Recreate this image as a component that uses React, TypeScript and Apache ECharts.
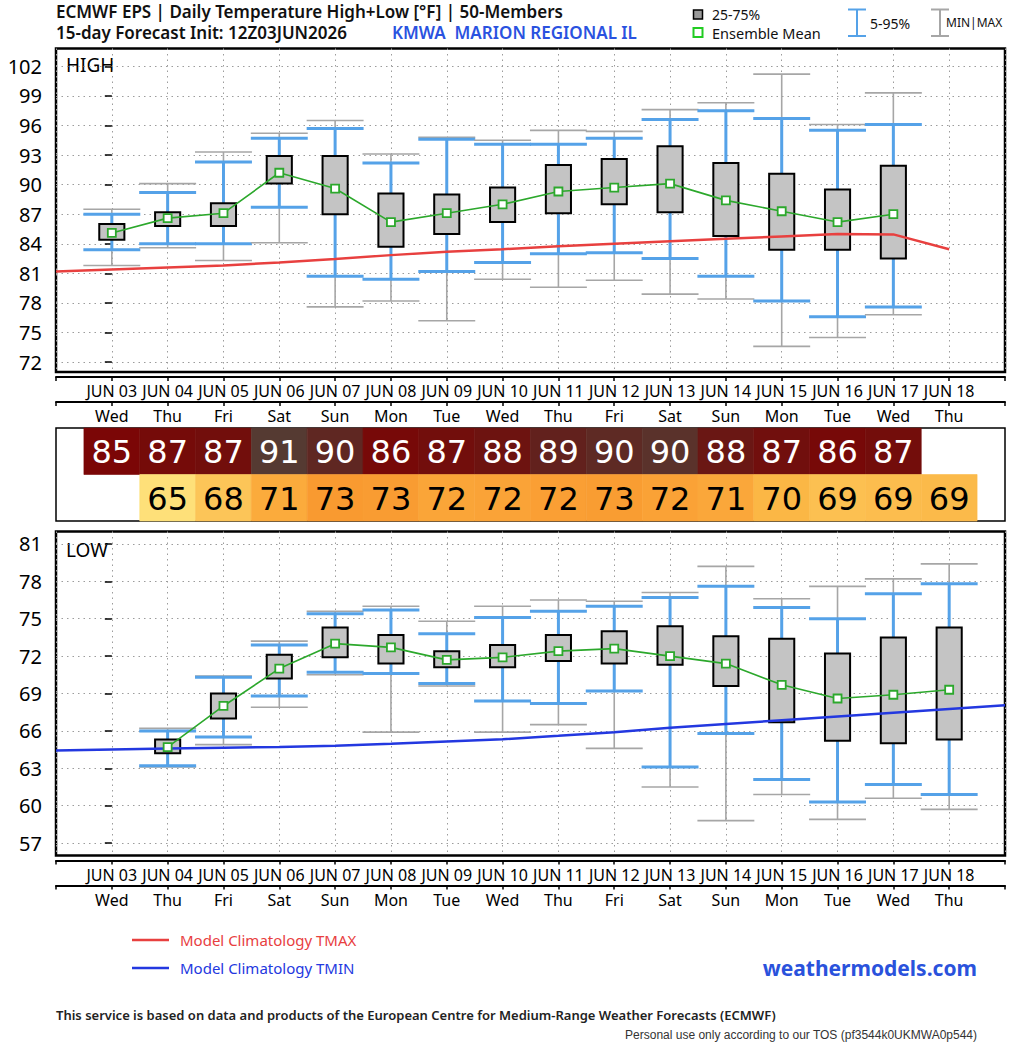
import React, { useEffect, useRef } from "react";
import * as echarts from "echarts";

// ---- Forecast days (x index 0 = JUN 03) ----
const dateLabels = [
  "JUN 03", "JUN 04", "JUN 05", "JUN 06", "JUN 07", "JUN 08", "JUN 09", "JUN 10",
  "JUN 11", "JUN 12", "JUN 13", "JUN 14", "JUN 15", "JUN 16", "JUN 17", "JUN 18",
];
const weekdayLabels = [
  "Wed", "Thu", "Fri", "Sat", "Sun", "Mon", "Tue", "Wed",
  "Thu", "Fri", "Sat", "Sun", "Mon", "Tue", "Wed", "Thu",
];

// ---- Daily high (°F), JUN 03 .. JUN 17 ----
const HIGH_FIRST_DAY = 0;
const highMax = [87.5, 90.1, 93.3, 95.2, 96.5, 93.1, 94.8, 94.5, 95.5, 95.4, 97.6, 98.3, 101.2, 96.1, 99.3];
const highP95 = [87.0, 89.2, 92.3, 94.7, 95.7, 92.2, 94.6, 94.1, 94.1, 94.7, 96.6, 97.5, 96.7, 95.5, 96.1];
const highQ3 = [86.0, 87.2, 88.1, 92.9, 92.9, 89.1, 89.0, 89.7, 92.0, 92.6, 93.9, 92.2, 91.1, 89.5, 91.9];
const highQ1 = [84.4, 85.8, 85.8, 90.1, 87.0, 83.7, 85.0, 86.2, 87.1, 88.0, 87.2, 84.8, 83.4, 83.4, 82.5];
const highP5 = [83.4, 84.0, 84.0, 87.7, 80.7, 80.4, 81.2, 82.1, 83.0, 83.1, 82.5, 80.7, 78.2, 76.6, 77.6];
const highMin = [81.8, 83.6, 82.3, 84.1, 77.6, 78.2, 76.2, 80.4, 79.6, 80.3, 78.9, 78.4, 73.6, 74.5, 76.8];
const highMean = [85.1, 86.6, 87.1, 91.2, 89.6, 86.2, 87.1, 88.0, 89.3, 89.7, 90.1, 88.4, 87.3, 86.2, 87.0];

// ---- Daily low (°F), JUN 04 .. JUN 18 ----
const LOW_FIRST_DAY = 1;
const lowMax = [66.2, 70.4, 73.2, 75.6, 76.0, 74.8, 76.0, 76.5, 76.4, 77.1, 79.2, 76.6, 77.6, 78.2, 79.4];
const lowP95 = [66.0, 70.3, 72.9, 75.4, 75.7, 73.8, 75.1, 75.6, 76.0, 76.7, 77.6, 75.9, 75.0, 77.0, 77.8];
const lowQ3 = [65.3, 69.0, 72.1, 74.3, 73.7, 72.4, 72.9, 73.7, 74.0, 74.4, 73.6, 73.4, 72.2, 73.5, 74.3];
const lowQ1 = [64.2, 67.0, 70.2, 71.9, 71.4, 71.1, 71.1, 71.6, 71.4, 71.3, 69.6, 66.7, 65.2, 65.0, 65.3];
const lowP5 = [63.2, 65.5, 68.8, 70.7, 70.6, 69.8, 68.4, 68.2, 69.2, 63.1, 65.8, 62.1, 60.3, 61.7, 60.9];
const lowMin = [63.1, 64.9, 67.9, 70.5, 65.9, 69.6, 65.9, 66.5, 64.6, 61.5, 58.8, 60.9, 58.9, 60.6, 59.7];
const lowMean = [64.7, 68.0, 71.0, 73.0, 72.7, 71.7, 71.9, 72.4, 72.6, 72.0, 71.4, 69.7, 68.6, 68.9, 69.3];

// ---- Model climatology, starting JUN 02 (x = -1) ----
const CLIM_FIRST_DAY = -1;
const climTmax = [81.2, 81.4, 81.6, 81.8, 82.1, 82.45, 82.85, 83.2, 83.45, 83.75, 84.0, 84.25, 84.5, 84.75, 85.0, 84.95, 83.45];
const climTmin = [64.42, 64.5, 64.58, 64.65, 64.7, 64.8, 64.96, 65.14, 65.33, 65.6, 65.9, 66.25, 66.55, 66.85, 67.15, 67.45, 67.75, 68.05];

// ---- Axis ticks ----
const highTicks = [72, 75, 78, 81, 84, 87, 90, 93, 96, 99, 102];
const lowTicks = [57, 60, 63, 66, 69, 72, 75, 78, 81];

const FONT = "'Noto Sans', 'DejaVu Sans', sans-serif";
const GRAY = "#a6a6a6";
const BLUE = "#55a2e8";
const GREEN = "#2ca82c";
const RED = "#e8403f";
const NAVY = "#2338e0";

// colour ramps for the summary strip (value, r, g, b)
const highRamp = [
  [85, 123, 6, 6],
  [86.5, 118, 10, 9],
  [88, 109, 19, 16],
  [89.3, 98, 33, 29],
  [90.1, 90, 50, 43],
  [91.5, 84, 60, 52],
];
const lowRamp = [
  [64, 254, 230, 128],
  [66, 253, 214, 108],
  [68, 252, 197, 88],
  [70, 251, 180, 66],
  [72, 250, 162, 54],
  [74, 248, 146, 42],
];

function rampColor(ramp: number[][], v: number): string {
  if (v <= ramp[0][0]) return `rgb(${ramp[0][1]},${ramp[0][2]},${ramp[0][3]})`;
  for (let i = 1; i < ramp.length; i++) {
    if (v <= ramp[i][0]) {
      const a = ramp[i - 1];
      const b = ramp[i];
      const t = (v - a[0]) / (b[0] - a[0]);
      const c = [1, 2, 3].map((k) => Math.round(a[k] + (b[k] - a[k]) * t));
      return `rgb(${c[0]},${c[1]},${c[2]})`;
    }
  }
  const l = ramp[ramp.length - 1];
  return `rgb(${l[1]},${l[2]},${l[3]})`;
}

function spreadRows(first: number, mn: number[], p5: number[], q1: number[], q3: number[], p95: number[], mx: number[]) {
  return mn.map((_, i) => [first + i, mn[i], p5[i], q1[i], q3[i], p95[i], mx[i]]);
}
function pairs(first: number, vals: number[]) {
  return vals.map((v, i) => [first + i, v]);
}

const renderSpread = (_params: any, api: any) => {
  const x = api.value(0);
  const lo = api.value(1);
  const p5 = api.value(2);
  const q1 = api.value(3);
  const q3 = api.value(4);
  const p95 = api.value(5);
  const hi = api.value(6);
  const unit = api.size([1, 0])[0];
  const cx = api.coord([x, lo])[0];
  const y = (v: number) => api.coord([x, v])[1];
  const cap = unit * 0.51;
  const half = unit * 0.225;
  const gs = { stroke: GRAY, lineWidth: 1.6 };
  const bs = { stroke: BLUE, lineWidth: 3 };
  const seg = (x1: number, y1: number, x2: number, y2: number, style: any) => ({
    type: "line",
    shape: { x1, y1, x2, y2 },
    style,
  });
  return {
    type: "group",
    children: [
      seg(cx, y(lo), cx, y(hi), gs),
      seg(cx - cap, y(lo), cx + cap, y(lo), gs),
      seg(cx - cap, y(hi), cx + cap, y(hi), gs),
      seg(cx, y(p5), cx, y(p95), bs),
      seg(cx - cap, y(p5), cx + cap, y(p5), bs),
      seg(cx - cap, y(p95), cx + cap, y(p95), bs),
      {
        type: "rect",
        shape: { x: cx - half, y: y(q3), width: half * 2, height: y(q1) - y(q3) },
        style: { fill: "#c4c4c4", stroke: "#000", lineWidth: 2 },
      },
    ],
  };
};

const renderCell = (_params: any, api: any) => {
  const x = api.value(0);
  const row = api.value(1);
  const v = api.value(2);
  const a = api.coord([x - 0.5, row + 1]);
  const b = api.coord([x + 0.5, row]);
  const isHigh = row >= 1;
  const fill = rampColor(isHigh ? highRamp : lowRamp, v);
  return {
    type: "group",
    children: [
      {
        type: "rect",
        shape: { x: a[0], y: a[1], width: b[0] - a[0], height: b[1] - a[1] },
        style: { fill, stroke: fill, lineWidth: 0.6 },
      },
      {
        type: "text",
        style: {
          text: String(Math.round(v)),
          x: (a[0] + b[0]) / 2,
          y: (a[1] + b[1]) / 2 + 1,
          fill: isHigh ? "#fff" : "#000",
          fontSize: 32,
          fontFamily: "'DejaVu Sans', sans-serif",
          align: "center",
          verticalAlign: "middle",
          textAlign: "center",
          textVerticalAlign: "middle",
        },
      },
    ],
  };
};

const dotted = { show: true, lineStyle: { color: "#9c9c9c", type: [1.5, 4], width: 1 } };
const baseX = { type: "value", min: -1, max: 16, interval: 1 };

function dayAxes(gridIndex: number) {
  const labelAxis = (offset: number, labels: string[]) => ({
    ...baseX,
    gridIndex,
    position: "bottom",
    offset,
    axisLine: { show: true, lineStyle: { color: "#000", width: 2 } },
    axisTick: { show: true, length: 4, lineStyle: { color: "#000", width: 1.5 } },
    axisLabel: {
      margin: 6,
      fontSize: 16,
      color: "#000",
      fontFamily: FONT,
      formatter: (v: number) => labels[v] ?? "",
    },
    splitLine: { show: false },
  });
  return [
    {
      ...baseX,
      gridIndex,
      axisLine: { show: false },
      axisTick: { show: false },
      axisLabel: { show: false },
      splitLine: dotted,
    },
    labelAxis(5, dateLabels),
    labelAxis(30, weekdayLabels),
  ];
}

function tempAxis(gridIndex: number, min: number, max: number, ticks: number[]) {
  return {
    type: "value",
    gridIndex,
    min,
    max,
    axisLine: { show: false },
    axisTick: { show: true, length: 7, lineStyle: { color: "#000", width: 1.5 }, customValues: ticks },
    axisLabel: { customValues: ticks, fontSize: 20, margin: 14, color: "#000", fontFamily: FONT },
    splitLine: dotted,
  };
}

function txt(x: number, y: number, text: string, extra: any = {}) {
  return {
    type: "text",
    x,
    y,
    style: {
      text,
      fill: "#111",
      fontSize: 15,
      fontFamily: FONT,
      textAlign: "left",
      textVerticalAlign: "middle",
      align: "left",
      verticalAlign: "middle",
      ...extra,
    },
  };
}

function ibeam(x: number, y1: number, y2: number, w: number, color: string) {
  return [
    { type: "line", shape: { x1: x, y1, x2: x, y2 }, style: { stroke: color, lineWidth: 2 } },
    { type: "line", shape: { x1: x - w, y1, x2: x + w, y2: y1 }, style: { stroke: color, lineWidth: 2 } },
    { type: "line", shape: { x1: x - w, y1: y2, x2: x + w, y2 }, style: { stroke: color, lineWidth: 2 } },
  ];
}

function buildOption() {
  const stripData = [
    ...highMean.map((v, i) => [HIGH_FIRST_DAY + i, 1, v]),
    ...lowMean.map((v, i) => [LOW_FIRST_DAY + i, 0, v]),
  ];
  const head = { fontSize: 17, fontWeight: 600 };

  return {
    animation: false,
    backgroundColor: "#fff",
    textStyle: { fontFamily: FONT },
    grid: [
      { left: 56, top: 48.5, width: 949, height: 323.5, show: true, borderColor: "#000", borderWidth: 2.5 },
      { left: 56, top: 428, width: 949, height: 93, show: true, borderColor: "#000", borderWidth: 1.5 },
      { left: 56, top: 531.5, width: 949, height: 324, show: true, borderColor: "#000", borderWidth: 2.5 },
    ],
    xAxis: [
      ...dayAxes(0),
      { ...baseX, gridIndex: 1, show: false },
      ...dayAxes(2),
    ],
    yAxis: [
      tempAxis(0, 71, 103.8, highTicks),
      { type: "value", gridIndex: 1, min: 0, max: 2, show: false },
      tempAxis(2, 56, 82, lowTicks),
    ],
    series: [
      {
        type: "custom",
        name: "High spread",
        xAxisIndex: 0,
        yAxisIndex: 0,
        renderItem: renderSpread,
        encode: { x: 0, y: [1, 2, 3, 4, 5, 6] },
        data: spreadRows(HIGH_FIRST_DAY, highMin, highP5, highQ1, highQ3, highP95, highMax),
        z: 2,
      },
      {
        type: "line",
        name: "Model Climatology TMAX",
        xAxisIndex: 0,
        yAxisIndex: 0,
        data: pairs(CLIM_FIRST_DAY, climTmax),
        symbol: "none",
        lineStyle: { color: RED, width: 2.5 },
        z: 3,
      },
      {
        type: "line",
        name: "High ensemble mean",
        xAxisIndex: 0,
        yAxisIndex: 0,
        data: pairs(HIGH_FIRST_DAY, highMean),
        symbol: "rect",
        symbolSize: 8,
        itemStyle: { color: "#fff", borderColor: GREEN, borderWidth: 1.8 },
        lineStyle: { color: GREEN, width: 1.6 },
        z: 4,
      },
      {
        type: "custom",
        name: "Summary strip",
        xAxisIndex: 3,
        yAxisIndex: 1,
        renderItem: renderCell,
        encode: { x: 0, y: 1 },
        data: stripData,
        z: 2,
      },
      {
        type: "custom",
        name: "Low spread",
        xAxisIndex: 4,
        yAxisIndex: 2,
        renderItem: renderSpread,
        encode: { x: 0, y: [1, 2, 3, 4, 5, 6] },
        data: spreadRows(LOW_FIRST_DAY, lowMin, lowP5, lowQ1, lowQ3, lowP95, lowMax),
        z: 2,
      },
      {
        type: "line",
        name: "Model Climatology TMIN",
        xAxisIndex: 4,
        yAxisIndex: 2,
        data: pairs(CLIM_FIRST_DAY, climTmin),
        symbol: "none",
        lineStyle: { color: NAVY, width: 2.5 },
        z: 3,
      },
      {
        type: "line",
        name: "Low ensemble mean",
        xAxisIndex: 4,
        yAxisIndex: 2,
        data: pairs(LOW_FIRST_DAY, lowMean),
        symbol: "rect",
        symbolSize: 8,
        itemStyle: { color: "#fff", borderColor: GREEN, borderWidth: 1.8 },
        lineStyle: { color: GREEN, width: 1.6 },
        z: 4,
      },
    ],
    graphic: [
      // header
      txt(56, 11.5, "ECMWF EPS | Daily Temperature High+Low [°F] | 50-Members", head),
      txt(56, 32.5, "15-day Forecast Init: 12Z03JUN2026", head),
      txt(392, 32.5, "KMWA  MARION REGIONAL IL", { ...head, fill: "#2a52e0" }),
      // top-right legend
      { type: "rect", shape: { x: 693.5, y: 10, width: 9, height: 9 }, style: { fill: "#9a9a9a", stroke: "#000", lineWidth: 1.5 } },
      txt(712, 14.5, "25-75%", { fontSize: 14 }),
      { type: "rect", shape: { x: 693.5, y: 28, width: 9, height: 9 }, style: { fill: "#fff", stroke: "#22cc22", lineWidth: 2 } },
      txt(712, 32.5, "Ensemble Mean", { fontSize: 14.5 }),
      ...ibeam(857, 9.5, 36, 9, BLUE),
      txt(870, 23.5, "5-95%", { fontSize: 14 }),
      ...ibeam(940, 9.5, 36, 9, GRAY),
      txt(946, 22, "MIN|MAX", { fontSize: 12 }),
      // panel titles
      txt(66, 65, "HIGH", { fontSize: 19, fill: "#000" }),
      txt(66, 550, "LOW", { fontSize: 19, fill: "#000" }),
      // bottom legend
      { type: "line", shape: { x1: 132, y1: 940, x2: 169, y2: 940 }, style: { stroke: RED, lineWidth: 2.5 } },
      txt(180, 940, "Model Climatology TMAX", { fill: RED }),
      { type: "line", shape: { x1: 132, y1: 968, x2: 169, y2: 968 }, style: { stroke: NAVY, lineWidth: 2.5 } },
      txt(180, 968, "Model Climatology TMIN", { fill: NAVY }),
      txt(977, 968, "weathermodels.com", { fontSize: 21, fontWeight: "bold", fill: "#2a52dc", textAlign: "right", align: "right" }),
      txt(56, 1015, "This service is based on data and products of the European Centre for Medium-Range Weather Forecasts (ECMWF)", {
        fontSize: 13,
        fontWeight: 600,
        fill: "#222",
      }),
      txt(977, 1035, "Personal use only according to our TOS (pf3544k0UKMWA0p544)", {
        fontSize: 12,
        fill: "#333",
        fontFamily: "'Liberation Sans', Arial, sans-serif",
        textAlign: "right",
        align: "right",
      }),
    ],
  };
}

export default function App() {
  const ref = useRef<HTMLDivElement>(null);
  useEffect(() => {
    if (!ref.current) return;
    const chart = echarts.init(ref.current, null, { renderer: "svg" });
    chart.setOption(buildOption() as any);
    return () => chart.dispose();
  }, []);
  return (
    <div
      ref={ref}
      style={{ position: "absolute", left: 0, top: 0, width: 1024, height: 1044, background: "#fff" }}
    />
  );
}
